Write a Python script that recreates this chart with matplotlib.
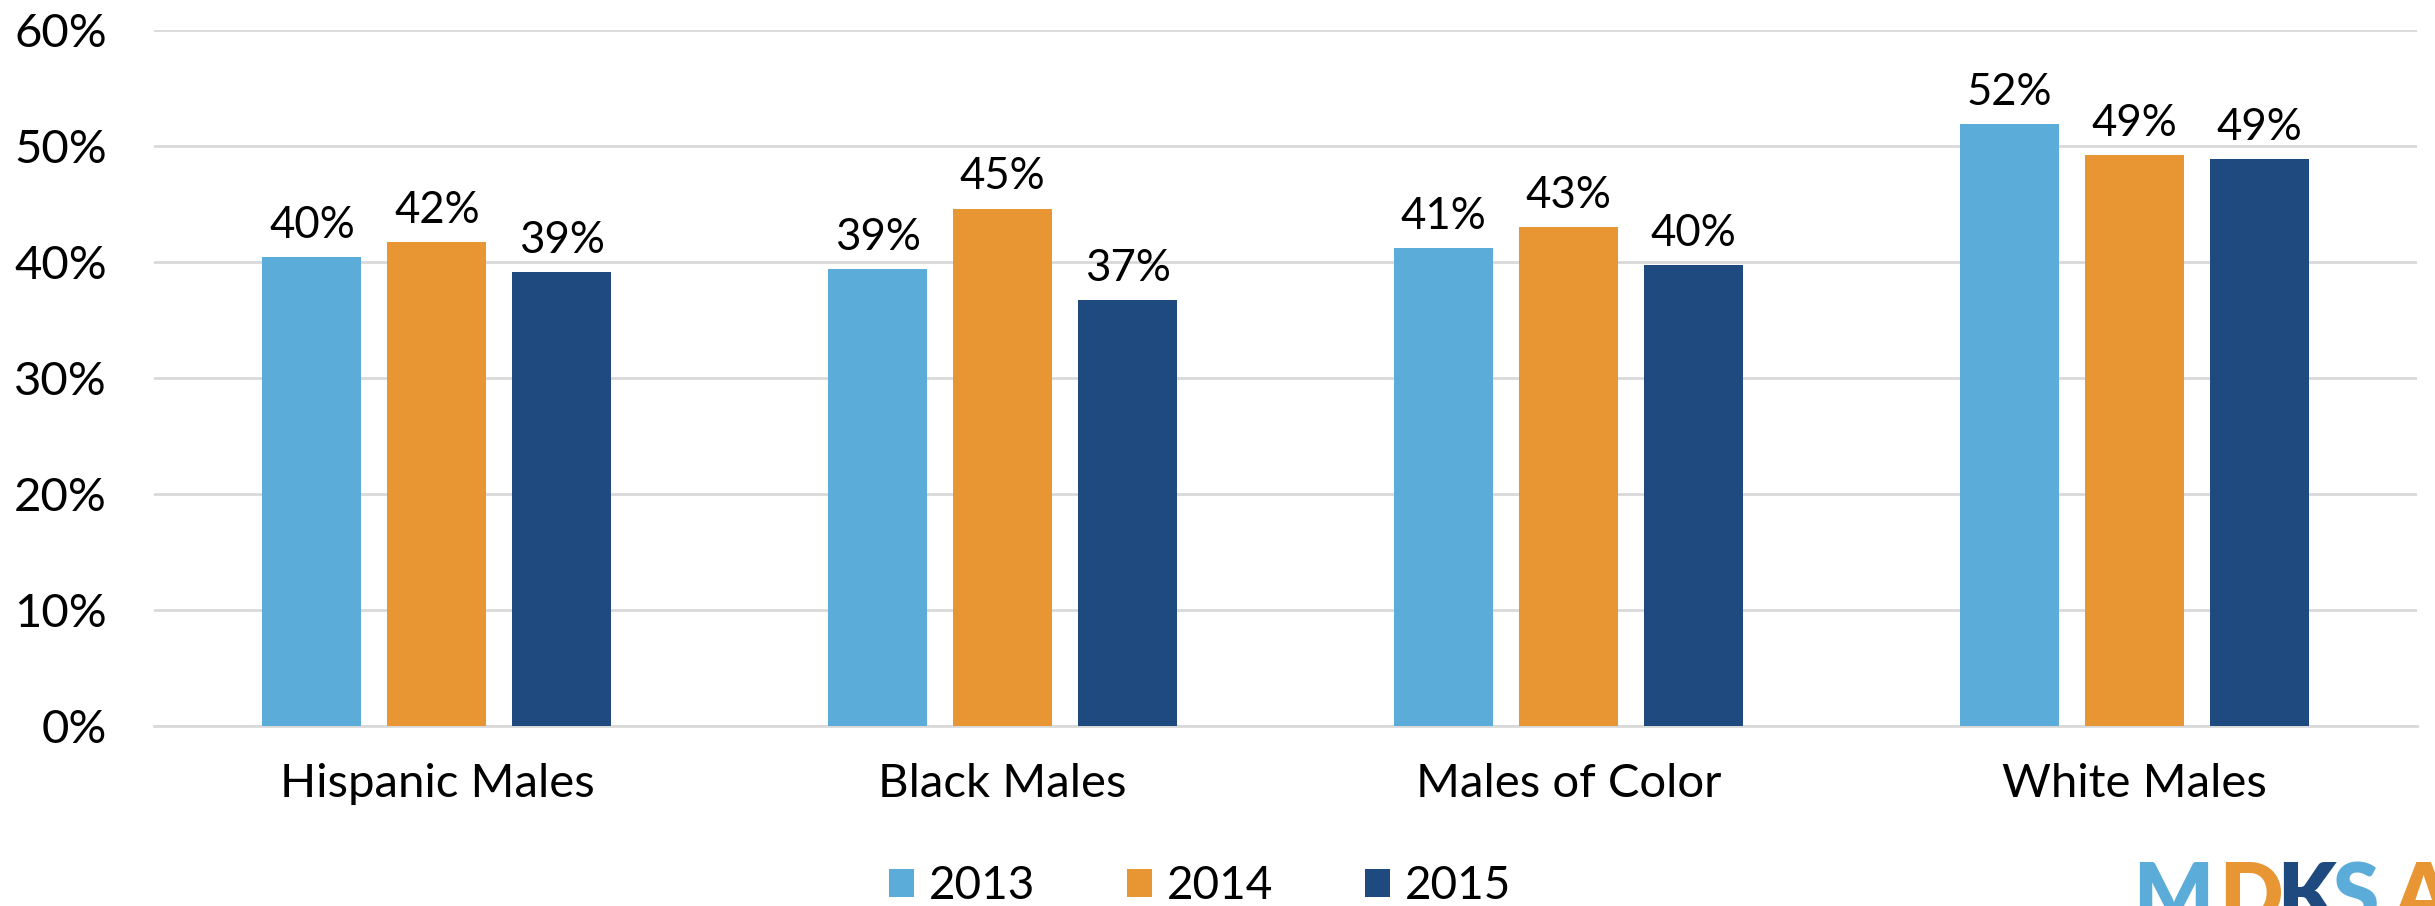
import numpy as np
import matplotlib.pyplot as plt

plt.rcParams['font.family'] = ['Lato', 'DejaVu Sans']

# data (percent)
groups = ['Hispanic Males', 'Black Males', 'Males of Color', 'White Males']
years = ['2013', '2014', '2015']
vals_2013 = [40.4, 39.4, 41.2, 51.9]
vals_2014 = [41.7, 44.6, 43.0, 49.2]
vals_2015 = [39.1, 36.7, 39.7, 48.9]
colors = ['#5BACD9', '#E89533', '#1F4A80']

fig = plt.figure(figsize=(24.35, 9.06), dpi=100)
ax = fig.add_axes([154 / 2435, 1 - 725.7 / 906, (2417 - 154) / 2435, (725.7 - 30) / 906])

x = np.arange(len(groups))
width = 0.175
step = 0.221
for i, (yr, vals) in enumerate(zip(years, [vals_2013, vals_2014, vals_2015])):
    bars = ax.bar(x + (i - 1) * step, vals, width, color=colors[i], label=yr, zorder=3)
    ax.bar_label(bars, labels=[f'{round(v):.0f}%' for v in vals],
                 padding=8, fontsize=31.5, color='black')

ax.set_xlim(-0.5, len(groups) - 0.5)
ax.set_ylim(0, 60)
ax.set_yticks(np.arange(0, 61, 10))
ax.set_yticklabels([f'{t}%' for t in range(0, 61, 10)])
ax.set_xticks(x)
ax.set_xticklabels(groups)
ax.tick_params(axis='y', length=0, pad=34, labelsize=34)
ax.tick_params(axis='x', length=0, pad=27, labelsize=34)
ax.grid(axis='y', color='#D9D9D9', linewidth=2, zorder=0)
for s in ['top', 'right', 'left']:
    ax.spines[s].set_visible(False)
ax.spines['bottom'].set_color('#D9D9D9')
ax.spines['bottom'].set_linewidth(2)

fig.legend(loc='center', bbox_to_anchor=(1200 / 2435, 1 - 886 / 906), ncol=3,
           frameon=False, fontsize=33, handlelength=0.55, handleheight=0.57,
           handletextpad=0.32, columnspacing=2.0, borderaxespad=0)

# partial logo in the bottom right corner (cut off by the edge, as in the original)
logo = [('M', '#5BACD9', 86), ('D', '#E89533', 58), ('K', '#1F4A80', 56),
        ('S', '#5BACD9', 60), ('A', '#E89533', 70)]
lx = 2133
for ch, c, w in logo:
    fig.text(lx / 2435, 1 - 860 / 906, ch, color=c, fontsize=60, fontweight='heavy',
             va='top', ha='left')
    lx += w

fig.savefig('out.png', dpi=100)
